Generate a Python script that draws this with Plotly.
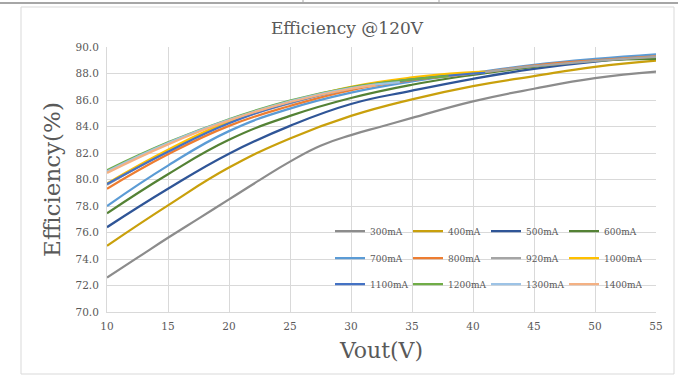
import plotly.graph_objects as go

# ---- data ----
series_names = ["300mA", "400mA", "500mA", "600mA",
                "700mA", "800mA", "920mA", "1000mA",
                "1100mA", "1200mA", "1300mA", "1400mA"]

vout_300 = [10, 12.5, 15, 17.5, 20, 22.5, 25, 27.5, 30, 32.5, 35, 40, 45, 50, 55]
vout_full = [10, 15, 20, 25, 30, 35, 40, 45, 50, 55]
vout_1000 = [10, 15, 20, 25, 30, 35, 40, 41]
vout_1100 = [10, 15, 20, 25, 30, 35, 40, 41]
vout_1200 = [10, 15, 20, 25, 30, 35, 38]
vout_1300 = [10, 15, 20, 25, 30, 34]
vout_1400 = [10, 15, 20, 25, 30, 32]

eff_300 = [72.6, 74.1, 75.6, 77.05, 78.5, 79.95, 81.35, 82.55, 83.35, 84.0,
           84.65, 85.9, 86.85, 87.65, 88.15]
eff_400 = [75.0, 78.05, 80.9, 83.1, 84.8, 86.05, 87.05, 87.8, 88.5, 88.97]
eff_500 = [76.4, 79.3, 81.95, 84.05, 85.7, 86.7, 87.6, 88.35, 88.9, 89.25]
eff_600 = [77.45, 80.4, 83.0, 84.8, 86.15, 87.15, 87.9, 88.5, 88.95, 89.1]
eff_700 = [78.0, 81.05, 83.65, 85.35, 86.55, 87.4, 88.05, 88.65, 89.1, 89.45]
eff_800 = [79.3, 81.9, 84.05, 85.55, 86.75, 87.5, 88.0, 88.6, 89.0, 89.3]
eff_920 = [79.6, 82.15, 84.3, 85.75, 86.85, 87.55, 88.0, 88.55, 88.95, 89.25]
eff_1000 = [79.7, 82.25, 84.4, 85.85, 87.0, 87.7, 88.1, 88.15]
eff_1100 = [79.65, 82.1, 84.25, 85.8, 86.9, 87.55, 88.0, 88.05]
eff_1200 = [80.7, 82.8, 84.55, 85.95, 86.95, 87.55, 87.8]
eff_1300 = [80.6, 82.75, 84.5, 85.9, 86.9, 87.35]
eff_1400 = [80.5, 82.65, 84.45, 85.85, 86.85, 87.1]

x_data = [vout_300, vout_full, vout_full, vout_full,
          vout_full, vout_full, vout_full, vout_1000,
          vout_1100, vout_1200, vout_1300, vout_1400]
y_data = [eff_300, eff_400, eff_500, eff_600,
          eff_700, eff_800, eff_920, eff_1000,
          eff_1100, eff_1200, eff_1300, eff_1400]

colors = ["#8C8C8C", "#C9A00C", "#2F5597", "#548235",
          "#5B9BD5", "#ED7D31", "#A5A5A5", "#FFC000",
          "#4472C4", "#70AD47", "#9DC3E6", "#F4B183"]

x_ticks = [10, 15, 20, 25, 30, 35, 40, 45, 50, 55]
y_ticks = [70, 72, 74, 76, 78, 80, 82, 84, 86, 88, 90]

FONT = "DejaVu Serif"
GRID = "#D9D9D9"
TXT = "#595959"

fig = go.Figure()
legend_ids = ["legend", "legend2", "legend3"]
for i, name in enumerate(series_names):
    fig.add_trace(go.Scatter(
        x=x_data[i], y=y_data[i], name=name, mode="lines",
        line=dict(color=colors[i], width=2.25, shape="spline", smoothing=1.3),
        legend=legend_ids[i // 4],
    ))

W, H = 678, 375
L, R, T, B = 107, 22, 47, 63
pw, ph = W - L - R, H - T - B


def px(xp):
    return (xp - L) / pw


def py(yp):
    return (H - B - yp) / ph


legend_common = dict(orientation="h", xanchor="left", yanchor="middle",
                     bgcolor="rgba(0,0,0,0)", borderwidth=0,
                     font=dict(family=FONT, size=9, color=TXT),
                     entrywidth=33, itemwidth=30, tracegroupgap=0)

fig.update_layout(
    width=W, height=H,
    margin=dict(l=L, r=R, t=T, b=B),
    paper_bgcolor="white", plot_bgcolor="white",
    title=dict(text="Efficiency @120V", xref="container", x=347 / W, xanchor="center",
               y=1 - 28 / H, yanchor="middle",
               font=dict(family=FONT, size=17, color="#595959")),
    legend=dict(x=px(330), y=py(231), **legend_common),
    legend2=dict(x=px(330), y=py(258), **legend_common),
    legend3=dict(x=px(330), y=py(284), **legend_common),
    showlegend=True,
)

fig.update_xaxes(
    range=[10, 55], tickvals=x_ticks, showgrid=True, gridcolor=GRID, gridwidth=1,
    showline=True, linecolor=GRID, zeroline=False, ticks="", ticklabelstandoff=4,
    tickfont=dict(family=FONT, size=10.5, color=TXT),
    title=dict(text="Vout(V)", standoff=12, font=dict(family=FONT, size=22, color=TXT)),
)
fig.update_yaxes(
    range=[70, 90], tickvals=y_ticks, tickformat=".1f", showgrid=True, gridcolor=GRID,
    gridwidth=1, showline=True, linecolor=GRID, zeroline=False, ticks="",
    ticklabelstandoff=5,
    tickfont=dict(family=FONT, size=10.5, color=TXT),
    title=dict(text="Efficiency(%)", standoff=8, font=dict(family=FONT, size=23, color=TXT)),
)

# chart frame and spreadsheet cell lines
fig.add_shape(type="rect", xref="paper", yref="paper",
              x0=px(21), x1=px(674), y0=py(374), y1=py(7),
              line=dict(color=GRID, width=1), fillcolor="rgba(0,0,0,0)", layer="below")
fig.add_shape(type="line", xref="paper", yref="paper",
              x0=px(0), x1=px(678), y0=py(3), y1=py(3),
              line=dict(color="#A6A6A6", width=2))
for xs in (303, 439):
    fig.add_shape(type="line", xref="paper", yref="paper",
                  x0=px(xs), x1=px(xs), y0=py(0), y1=py(3),
                  line=dict(color="#A6A6A6", width=1))

fig.write_html("out.html")
